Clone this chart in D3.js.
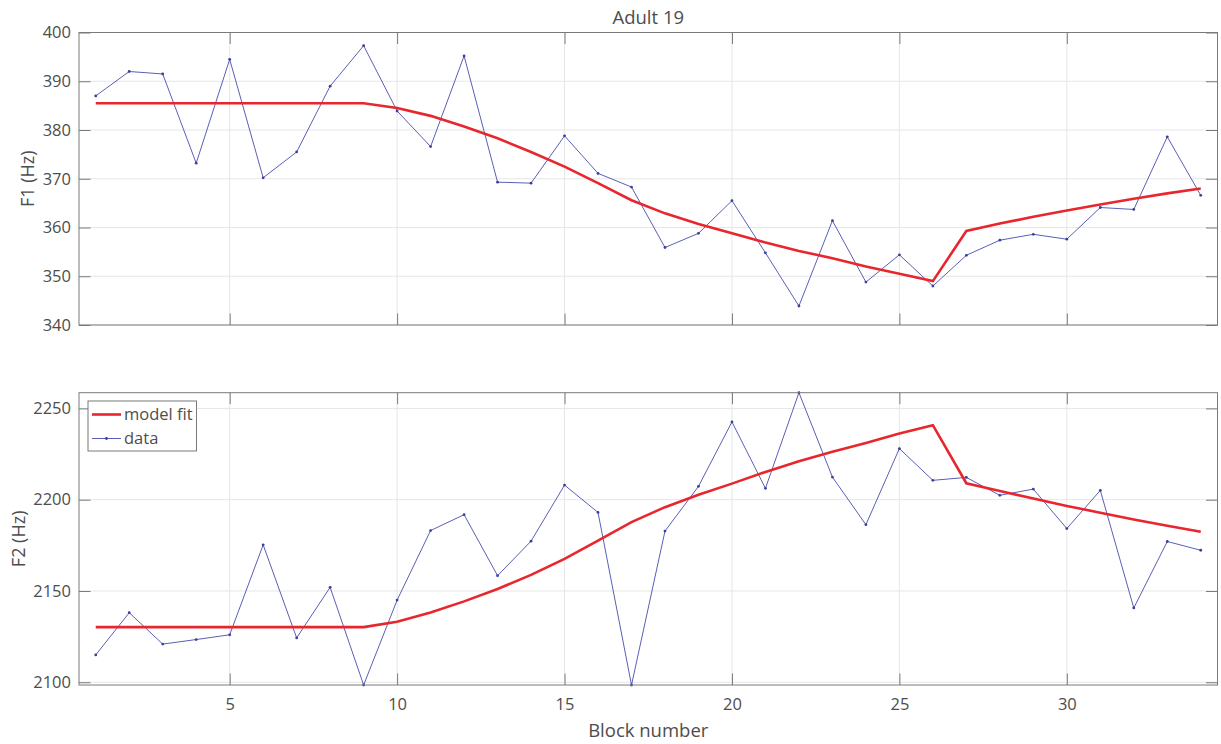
<!DOCTYPE html>
<html>
<head>
<meta charset="utf-8">
<script src="https://cdn.jsdelivr.net/npm/d3@7"></script>
<style>
  body { margin: 0; background: #fff; }
  svg text { font-family: 'Open Sans', 'Noto Sans', sans-serif; fill: #4d4d4d; }
  svg .tick text { font-size: 16.5px; }
</style>
</head>
<body>
<div id="chart"></div>
<script>
const blocks = d3.range(1, 35)

const f1Data = [387.0, 392.0, 391.5, 373.2, 394.5, 370.2, 375.5, 389.0, 397.3, 383.9,
  376.6, 395.2, 369.3, 369.1, 378.8, 371.1, 368.3, 355.9, 358.8, 365.5,
  354.8, 343.9, 361.4, 348.8, 354.4, 348.0, 354.3, 357.4, 358.6, 357.6,
  364.1, 363.7, 378.6, 366.6]
const f1Fit = [385.5, 385.5, 385.5, 385.5, 385.5, 385.5, 385.5, 385.5, 385.5, 384.5,
  382.9, 380.7, 378.3, 375.5, 372.5, 369.1, 365.6, 362.9, 360.7, 358.8,
  356.9, 355.2, 353.7, 352.0, 350.5, 349.0, 359.3, 360.8, 362.2, 363.5,
  364.7, 365.9, 367.0, 368.0]

const f2Data = [2115.0, 2138.1, 2120.9, 2123.4, 2126.0, 2175.3, 2124.3, 2152.0, 2098.5, 2145.0,
  2183.1, 2191.8, 2158.4, 2177.3, 2208.0, 2193.0, 2098.5, 2182.8, 2207.3, 2242.6,
  2206.2, 2258.6, 2212.4, 2186.3, 2228.0, 2210.6, 2212.2, 2202.4, 2205.8, 2184.2,
  2205.1, 2140.7, 2177.1, 2172.3]
const f2Fit = [2130.2, 2130.2, 2130.2, 2130.2, 2130.2, 2130.2, 2130.2, 2130.2, 2130.2, 2133.1,
  2138.2, 2144.3, 2151.1, 2158.8, 2167.6, 2177.6, 2187.7, 2195.9, 2202.7, 2208.8,
  2215.2, 2221.0, 2226.2, 2231.1, 2236.2, 2240.8, 2209.0, 2204.8, 2200.6, 2196.6,
  2192.9, 2189.2, 2185.7, 2182.4]

const xTicks = [5, 10, 15, 20, 25, 30]
const f1Ticks = [340, 350, 360, 370, 380, 390, 400]
const f2Ticks = [2100, 2150, 2200, 2250]

const W = 1221, H = 744
const left = 79, right = 1217.5
const fitColor = '#e8262d', dataColor = '#5a5fb5'
const axisColor = '#7a7a7a', gridColor = '#e6e6e6'

const svg = d3.select('#chart').append('svg').attr('width', W).attr('height', H)

const x = d3.scaleLinear().domain([0.5, 34.5]).range([left, right])

function panel (top, bottom, domain, yTicks, data, fit, yLabel, labX, showX) {
  const y = d3.scaleLinear().domain(domain).range([bottom, top])
  const g = svg.append('g')

  // grid
  g.selectAll('.gx').data(xTicks).enter().append('line')
    .attr('x1', d => x(d)).attr('x2', d => x(d)).attr('y1', top).attr('y2', bottom)
    .attr('stroke', gridColor).attr('stroke-width', 1)
  g.selectAll('.gy').data(yTicks).enter().append('line')
    .attr('x1', left).attr('x2', right).attr('y1', d => y(d)).attr('y2', d => y(d))
    .attr('stroke', gridColor).attr('stroke-width', 1)

  // lines
  const line = d3.line().x((d, i) => x(blocks[i])).y(d => y(d))
  g.append('path').datum(data).attr('d', line)
    .attr('fill', 'none').attr('stroke', dataColor).attr('stroke-width', 1)
  g.selectAll('.pt').data(data).enter().append('circle')
    .attr('cx', (d, i) => x(blocks[i])).attr('cy', d => y(d)).attr('r', 1.4)
    .attr('fill', '#3a3f9a')
  g.append('path').datum(fit).attr('d', line)
    .attr('fill', 'none').attr('stroke', fitColor).attr('stroke-width', 2.6)

  // axes (ticks inside, box on)
  const tl = 11.5
  const fmt = d3.format('d')
  const ax = (gen, tx, ty) => {
    const a = g.append('g').attr('transform', `translate(${tx},${ty})`).call(gen)
      .attr('font-size', null).attr('font-family', null)
    a.select('.domain').remove()
    a.selectAll('.tick line').attr('stroke', axisColor)
    a.selectAll('.tick text').style('font-size', '16.5px').attr('fill', '#4d4d4d')
    return a
  }
  const xb = ax(d3.axisBottom(x).tickValues(xTicks).tickSizeInner(-tl).tickPadding(13).tickFormat(fmt), 0, bottom)
  if (!showX) xb.selectAll('text').remove()
  ax(d3.axisTop(x).tickValues(xTicks).tickSizeInner(-tl).tickFormat(''), 0, top)
  ax(d3.axisLeft(y).tickValues(yTicks).tickSizeInner(-tl).tickPadding(8).tickFormat(fmt), left, 0)
  ax(d3.axisRight(y).tickValues(yTicks).tickSizeInner(-tl).tickFormat(''), right, 0)

  g.append('rect').attr('x', left).attr('y', top).attr('width', right - left).attr('height', bottom - top)
    .attr('fill', 'none').attr('stroke', axisColor).attr('stroke-width', 1)

  g.append('text').attr('transform', `translate(${labX},${(top + bottom) / 2}) rotate(-90)`)
    .attr('text-anchor', 'middle').attr('dy', '0.35em').attr('font-size', 18).text(yLabel)
  return y
}

panel(32.5, 325, [340, 400], f1Ticks, f1Data, f1Fit, 'F1 (Hz)', 28, false)
panel(392.7, 685, [2098.5, 2258.6], f2Ticks, f2Data, f2Fit, 'F2 (Hz)', 19, true)

svg.append('text').attr('x', (left + right) / 2).attr('y', 23.5).attr('text-anchor', 'middle')
  .attr('font-size', 18.5).attr('fill', '#333').text('Adult 19')
svg.append('text').attr('x', (left + right) / 2).attr('y', 737).attr('text-anchor', 'middle')
  .attr('font-size', 18.5).text('Block number')

// legend
const lg = svg.append('g').attr('transform', 'translate(88,401)')
lg.append('rect').attr('width', 108.5).attr('height', 50)
  .attr('fill', '#fff').attr('stroke', axisColor).attr('stroke-width', 1)
lg.append('line').attr('x1', 4).attr('x2', 33).attr('y1', 13.5).attr('y2', 13.5)
  .attr('stroke', fitColor).attr('stroke-width', 2.6)
lg.append('line').attr('x1', 4).attr('x2', 33).attr('y1', 37.5).attr('y2', 37.5)
  .attr('stroke', dataColor).attr('stroke-width', 1)
lg.append('circle').attr('cx', 18.5).attr('cy', 37.5).attr('r', 1.4).attr('fill', '#3a3f9a')
lg.append('text').attr('x', 36).attr('y', 13.5).attr('dy', '0.35em').attr('font-size', 16.5).attr('fill', '#262626').text('model fit')
lg.append('text').attr('x', 36).attr('y', 37.5).attr('dy', '0.35em').attr('font-size', 16.5).attr('fill', '#262626').text('data')
</script>
</body>
</html>
